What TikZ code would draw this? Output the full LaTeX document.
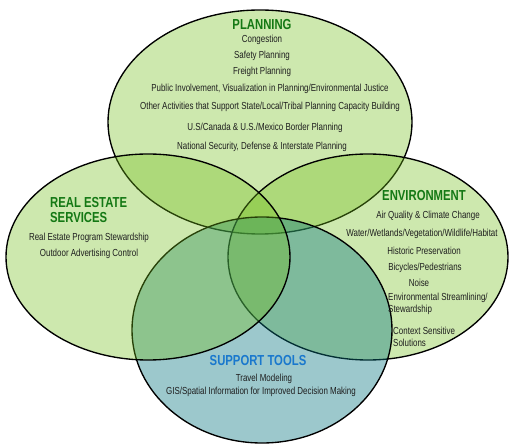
\documentclass[tikz,border=0pt]{standalone}
\usepackage{fontspec}
\setmainfont{Liberation Sans}[FakeStretch=0.78]
\usepackage{tikz}
\usetikzlibrary{positioning}
\definecolor{vennGreen}{RGB}{112,189,24}
\definecolor{vennBlue}{RGB}{8,117,128}
\definecolor{titleGreen}{RGB}{20,120,20}
\definecolor{titleBlue}{RGB}{25,120,205}
\definecolor{itemGray}{RGB}{30,30,30}

\begin{document}
\begin{tikzpicture}[x=1pt,y=-1pt,
    area/.style={draw=black, line width=1.35pt, fill=vennGreen, fill opacity=0.35},
    title/.style={font=\bfseries\fontsize{14.5}{15.5}\selectfont, text=titleGreen, inner sep=0pt, align=left},
    item/.style={font=\fontsize{10.2}{12}\selectfont, text=itemGray, inner sep=0pt}]
        \useasboundingbox (0,0) rectangle (514,446);

        % the four areas
        \draw[area] (260,122) ellipse [x radius=152pt, y radius=112pt];
        \draw[area] (368,257) ellipse [x radius=140pt, y radius=103pt];
        \draw[area, fill=vennBlue, fill opacity=0.4] (262,330) ellipse [x radius=130pt, y radius=113pt];
        \draw[area] (148,257) ellipse [x radius=142pt, y radius=103pt];

        % planning
        \node[title] (plan) at (262,25) {PLANNING};
        \node[item] (plan1) at (262,40) {Congestion};
        \node[item] (plan2) at (262,56) {Safety Planning};
        \node[item] (plan3) at (262,72) {Freight Planning};
        \node[item] (plan4) at (270,89) {Public Involvement, Visualization in Planning/Environmental Justice};
        \node[item] (plan5) at (270,107) {Other Activities that  Support State/Local/Tribal Planning Capacity Building};
        \node[item] (plan6) at (265,128) {U.S/Canada \& U.S./Mexico Border Planning};
        \node[item] (plan7) at (262,147) {National Security, Defense \& Interstate  Planning};

        % real estate
        \node[title, anchor=west] (real) at (50,210) {REAL ESTATE\\SERVICES};
        \node[item] (real1) at (89,238) {Real Estate Program Stewardship};
        \node[item] (real2) at (89,254) {Outdoor Advertising Control};

        % environment
        \node[title] (env) at (424,196) {ENVIRONMENT};
        \node[item] (env1) at (428,216) {Air Quality \& Climate Change};
        \node[item] (env2) at (422,234) {Water/Wetlands/Vegetation/Wildlife/Habitat};
        \node[item] (env3) at (424,251) {Historic Preservation};
        \node[item] (env4) at (425,268) {Bicycles/Pedestrians};
        \node[item] (env5) at (419,283) {Noise};
        \node[item, anchor=west, align=left] (env6) at (388,304) {Environmental Streamlining/\\Stewardship};
        \node[item, anchor=west, align=left] (env7) at (393,337) {Context Sensitive\\Solutions};

        % support tools
        \node[title, text=titleBlue] (tools) at (258,361) {SUPPORT TOOLS};
        \node[item] (tools1) at (264,379) {Travel Modeling};
        \node[item] (tools2) at (261,392) {GIS/Spatial Information for Improved Decision Making};
\end{tikzpicture}
\end{document}
